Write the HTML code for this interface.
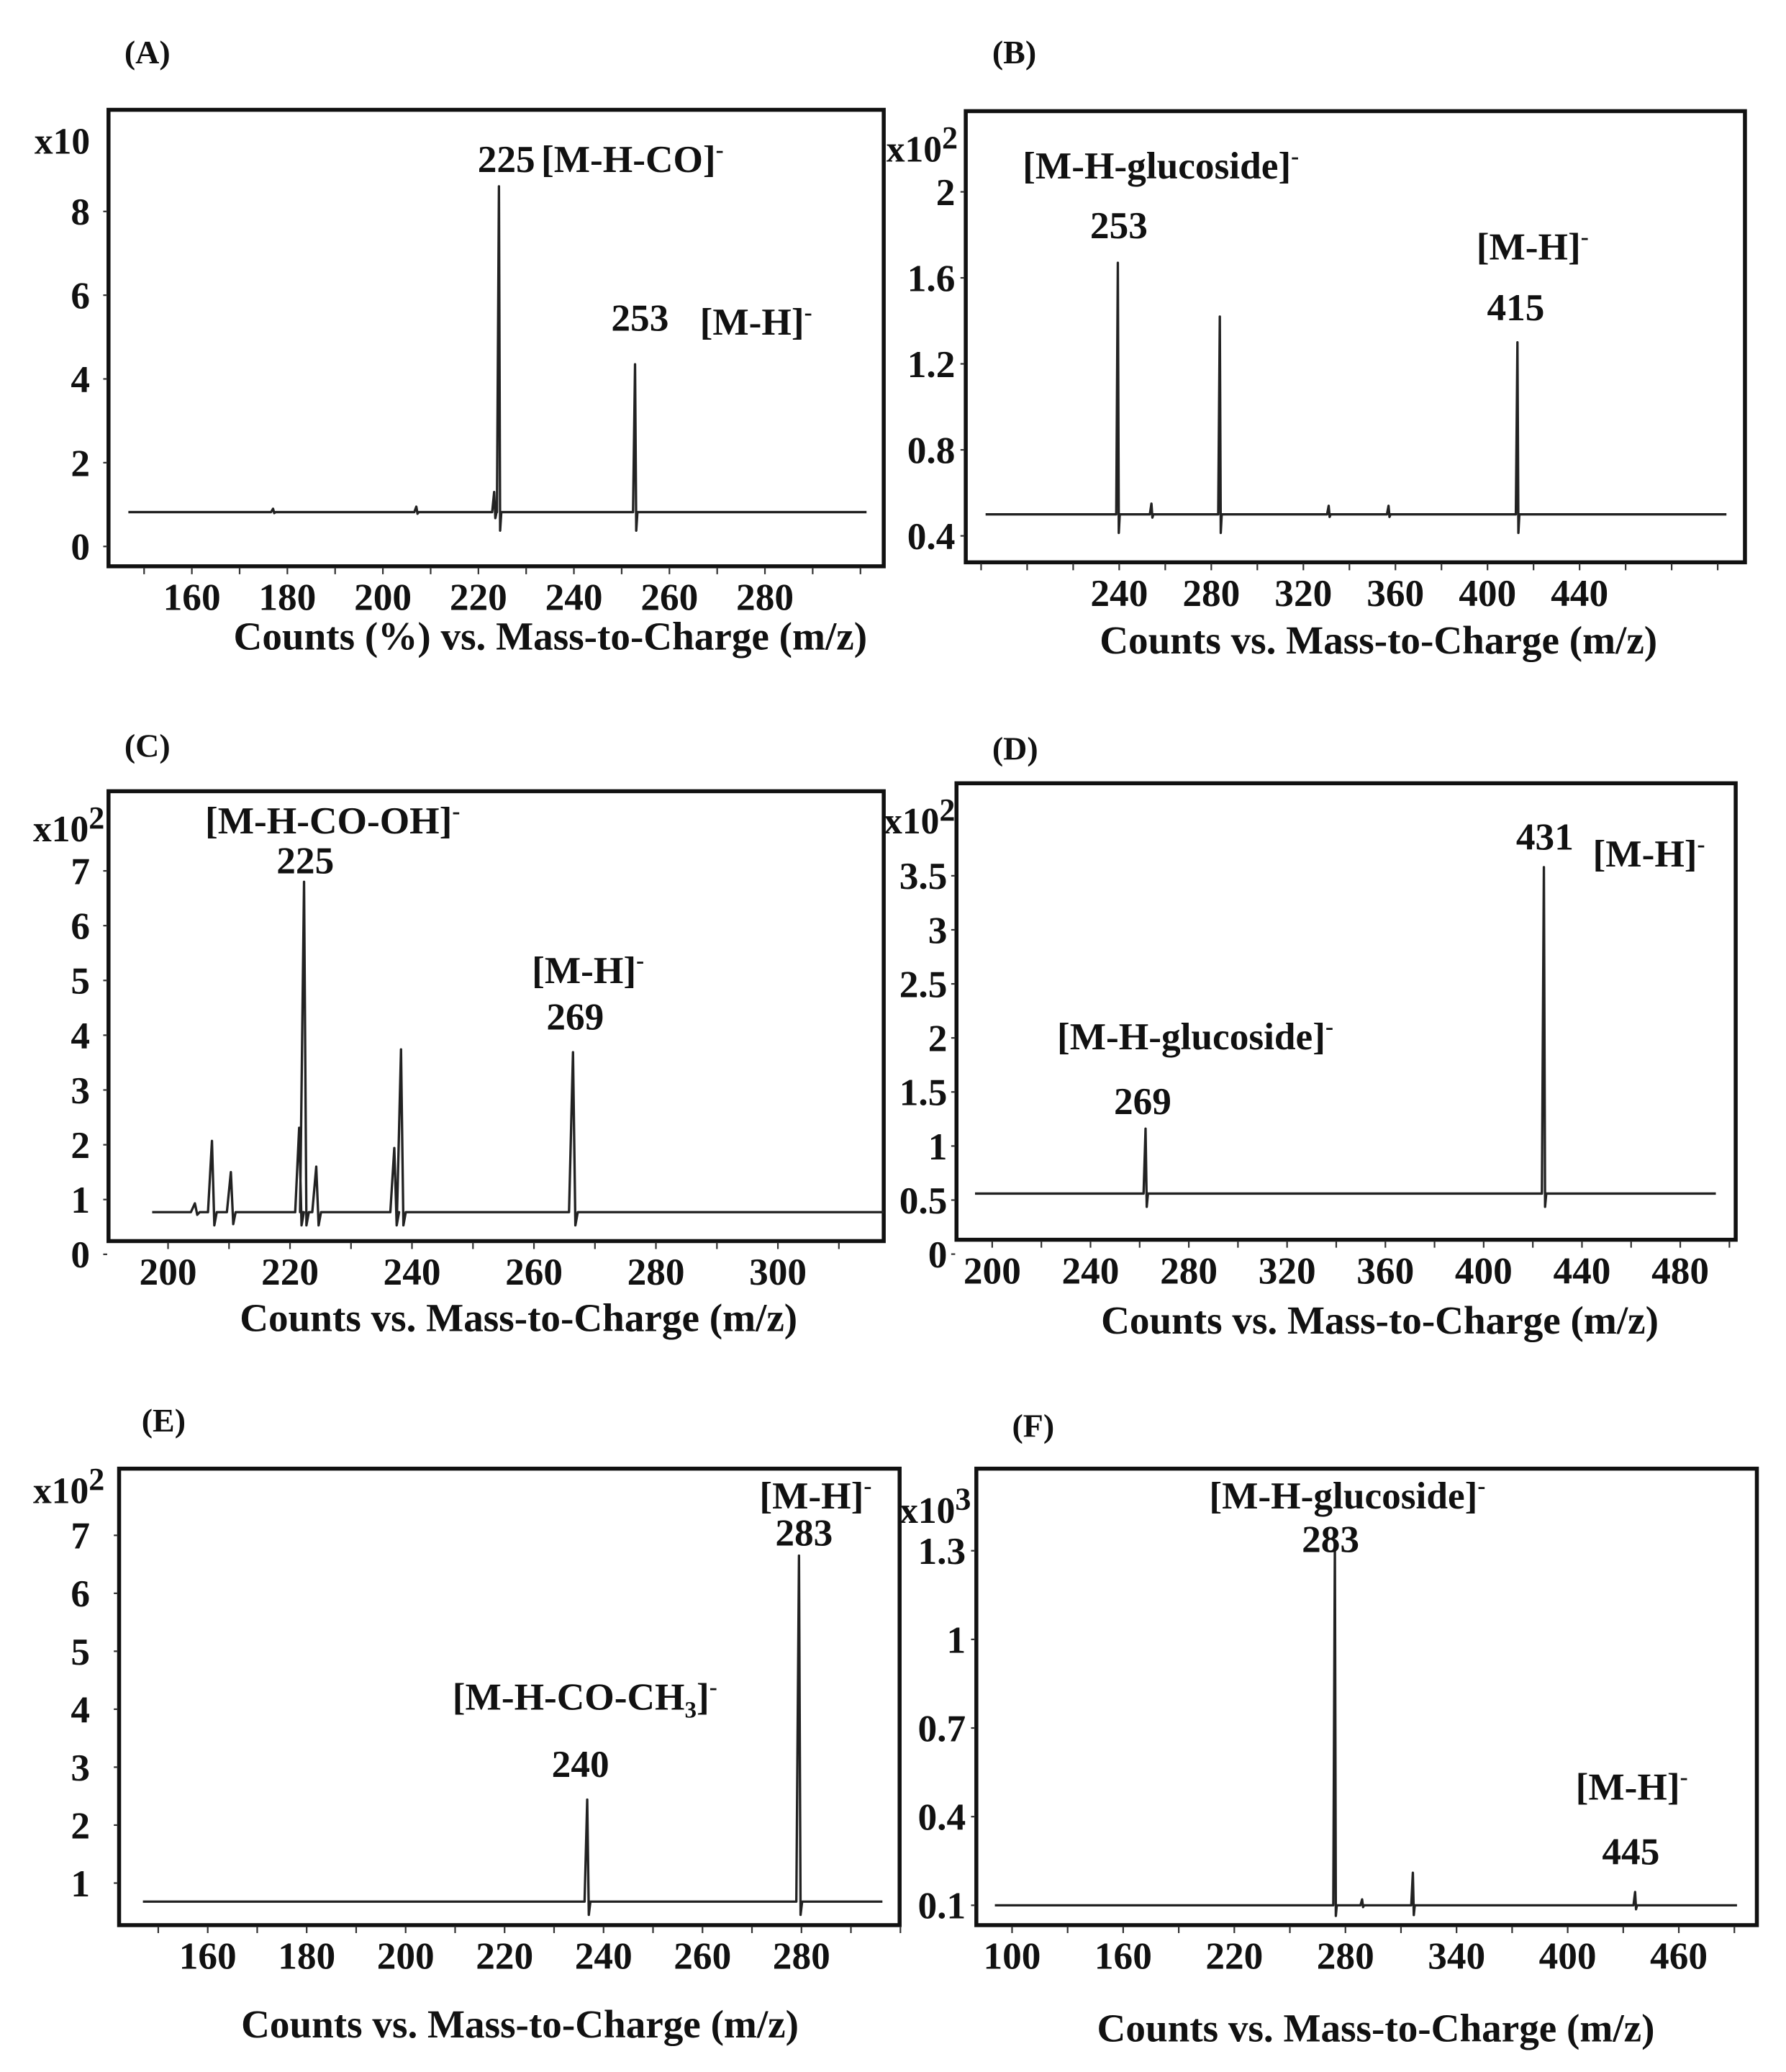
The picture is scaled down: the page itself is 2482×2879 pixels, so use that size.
<!DOCTYPE html>
<html><head><meta charset="utf-8"><style>
html,body{margin:0;padding:0;background:#fff;}
svg{display:block;}
text{font-family:"Liberation Serif",serif;font-weight:bold;fill:#111;}
</style></head><body>
<svg id="fig" width="2482" height="2879" viewBox="0 0 1350 1566" xmlns="http://www.w3.org/2000/svg"></svg>
<script>
// ---- Panel A data ----
const aXTicks = [160,180,200,220,240,260,280];
const aYTicks = [0,2,4,6,8];
const aPeakMz = [177,207,223.3,224.3,252.8];
const aPeakVal = [0.9,0.95,1.3,8.6,4.35];
const aBase = 0.82;
// ---- Panel B data ----
const bXTicks = [240,280,320,360,400,440];
const bYTicks = [0.4,0.8,1.2,1.6,2];
const bPeakMz = [239.4,254,283.7,331,357,413];
const bPeakVal = [1.67,0.55,1.42,0.54,0.54,1.30];
const bBase = 0.5;
// ---- Panel C data ----
const cXTicks = [200,220,240,260,280,300];
const cYTicks = [0,1,2,3,4,5,6,7];
const cPeakMz = [204.4,207.2,210.3,221.5,222.3,224.3,237.1,238.2,266.4];
const cPeakVal = [0.93,2.07,1.5,2.31,6.8,1.6,1.94,3.74,3.69];
const cBase = 0.77;
// ---- Panel D data ----
const dXTicks = [200,240,280,320,360,400,440,480];
const dYTicks = [0,0.5,1,1.5,2,2.5,3,3.5];
const dYLabels = ["0","0.5","1","1.5","2","2.5","3","3.5"];
const dPeakMz = [262.4,424.5];
const dPeakVal = [1.16,3.58];
const dBase = 0.56;
// ---- Panel E data ----
const eXTicks = [160,180,200,220,240,260,280];
const eYTicks = [1,2,3,4,5,6,7];
const ePeakMz = [236.7,279.5];
const ePeakVal = [2.44,6.65];
const eBase = 0.68;
// ---- Panel F data ----
const fXTicks = [100,160,220,280,340,400,460];
const fYTicks = [0.1,0.4,0.7,1,1.3];
const fPeakMz = [274.3,289,316.4,436.4];
const fPeakVal = [1.33,0.12,0.21,0.145];
const fBase = 0.1;

const NS="http://www.w3.org/2000/svg";
const svg=document.getElementById('fig');
function mk(tag,attrs,parent){const e=document.createElementNS(NS,tag);for(const k in attrs)e.setAttribute(k,attrs[k]);(parent||svg).appendChild(e);return e;}

function panel(o){
  const g=mk('g',{});
  
  
  const X=m=>o.x0+(m-o.m0)*o.kx;
  const Y=v=>o.y0-(v-o.v0)*o.ky;
  const L=mk('text',{x:o.letter[0],y:o.letter[1],'font-size':25},g);L.textContent='('+o.id.toUpperCase()+')';
  
  
  const f=mk('rect',{x:o.fr[0],y:o.fr[1],width:o.fr[2]-o.fr[0],height:o.fr[3]-o.fr[1],fill:'none',stroke:'#111','stroke-width':3},g);
  
  
  const xa=mk('g',{},g);
  
  
  const step=(o.xTicks[1]-o.xTicks[0])/2;
  for(let m=o.xTicks[0]-step*o.pre;X(m)<=o.fr[2]+2;m+=step){
    if(X(m)<o.fr[0]+5) continue;
    mk('line',{x1:X(m),x2:X(m),y1:o.fr[3]+1,y2:o.fr[3]+6,stroke:'#333','stroke-width':1.2},xa);
  }
  o.xTicks.forEach(m=>{const t=mk('text',{x:X(m),y:o.fr[3]+33,'font-size':29,'text-anchor':'middle'},xa);t.textContent=m;
    
    });
  const ya=mk('g',{},g);
  
  
  o.yTicks.forEach((v,i)=>{const t=mk('text',{x:o.yLabX,y:Y(v)+10,'font-size':29,'text-anchor':'end'},ya);t.textContent=o.yLabels?o.yLabels[i]:v;
    
    
    mk('line',{x1:o.fr[0]-4,x2:o.fr[0]-1,y1:Y(v),y2:Y(v),stroke:'#333','stroke-width':1.2},ya);});
  const ex=mk('text',{x:o.exp[0],y:o.exp[1],'font-size':28,'text-anchor':'start'},ya);
  ex.textContent=o.expText;
  
  
  if(o.expSup){const s=mk('tspan',{dy:-10,'font-size':24},ex);s.textContent=o.expSup;}
  const ti=mk('text',{x:o.title[0],y:o.title[1],'font-size':30,'text-anchor':'middle'},g);ti.textContent=o.titleText;
  
  
  const idx=o.mz.map((m,i)=>i).sort((a,b)=>o.mz[a]-o.mz[b]);
  const by=Y(o.base);
  let d='M'+o.bx[0]+','+by;
  idx.forEach(i=>{const px=X(o.mz[i]),py=Y(o.val[i]),w=o.w;
    const dp=Math.min(o.dip,(by-py)*0.3);
    d+=' L'+(px-w)+','+by+' L'+px+','+py+' L'+(px+w*0.6)+','+(by+dp)+' L'+(px+w*1.2)+','+by;});
  d+=' L'+o.bx[1]+','+by;
  const p=mk('path',{d:d,fill:'none',stroke:'#222','stroke-width':1.8,'stroke-linejoin':'round'},g);
  
  
  o.ann.forEach(a=>{const t=mk('text',{x:a[1],y:a[2],'font-size':29},g);t.textContent=a[0];
    
    
    if(a[3]){const s=mk('tspan',{'font-size':18,dy:a[3]>0?6:-11},t);s.textContent=a[3]>0?'3':'-';
      if(a[3]>0){const r=mk('tspan',{'font-size':29,dy:-6},t);r.textContent=']';const s2=mk('tspan',{'font-size':18,dy:-11},t);s2.textContent='-';}}});
}

panel({id:'a',letter:[94,48],fr:[82,83,668,428],x0:145,m0:160,kx:3.61,y0:413,v0:0,ky:31.65,
  xTicks:aXTicks,yTicks:aYTicks,pre:2,yLabX:68,exp:[26,116],expText:'x10',title:[416,491],
  titleText:'Counts (%) vs. Mass-to-Charge (m/z)',mz:aPeakMz,val:aPeakVal,base:aBase,bx:[97,655],w:1.5,dip:14,
  ann:[['225',361,130],['[M-H-CO]',409,130,-1],['253',462,250],['[M-H]',529,253,-1]]});
panel({id:'b',letter:[750,48],fr:[730,84,1319,425],x0:846,m0:240,kx:1.74,y0:405,v0:0.4,ky:162.5,
  xTicks:bXTicks,yTicks:bYTicks,pre:3,yLabX:722,exp:[670,122],expText:'x10',expSup:'2',title:[1042,494],
  titleText:'Counts vs. Mass-to-Charge (m/z)',mz:bPeakMz,val:bPeakVal,base:bBase,bx:[745,1305],w:1.2,dip:14,
  ann:[['[M-H-glucoside]',773,135,-1],['253',824,180],['[M-H]',1116,196,-1],['415',1124,242]]});
panel({id:'c',letter:[94,572],fr:[82,598,668,938],x0:127,m0:200,kx:4.61,y0:948,v0:0,ky:41.4,
  xTicks:cXTicks,yTicks:cYTicks,pre:1,yLabX:68,exp:[25,636],expText:'x10',expSup:'2',title:[392,1006],
  titleText:'Counts vs. Mass-to-Charge (m/z)',mz:cPeakMz,val:cPeakVal,base:cBase,bx:[115,668],w:3,dip:10,
  ann:[['[M-H-CO-OH]',155,630,-1],['225',209,660],['[M-H]',402,743,-1],['269',413,778]]});
panel({id:'d',letter:[750,574],fr:[723,592,1312,937],x0:750,m0:200,kx:1.8575,y0:907,v0:0.5,ky:81.7,
  xTicks:dXTicks,yTicks:dYTicks,yLabels:dYLabels,pre:0,yLabX:716,exp:[668,630],expText:'x10',expSup:'2',title:[1043,1008],
  titleText:'Counts vs. Mass-to-Charge (m/z)',mz:dPeakMz,val:dPeakVal,base:dBase,bx:[737,1297],w:1.5,dip:10,
  ann:[['431',1146,642],['[M-H]',1204,655,-1],['[M-H-glucoside]',799,793,-1],['269',842,842]]});
panel({id:'e',letter:[107,1082],fr:[90,1110,680,1455],x0:157,m0:160,kx:3.74,y0:1467,v0:0,ky:43.8,
  xTicks:eXTicks,yTicks:eYTicks,pre:1,yLabX:68,exp:[25,1136],expText:'x10',expSup:'2',title:[393,1540],
  titleText:'Counts vs. Mass-to-Charge (m/z)',mz:ePeakMz,val:ePeakVal,base:eBase,bx:[108,667],w:2,dip:10,
  ann:[['[M-H]',574,1140,-1],['283',586,1168],['[M-H-CO-CH',342,1292,1],['240',417,1343]]});
panel({id:'f',letter:[765,1086],fr:[738,1110,1328,1455],x0:765,m0:100,kx:1.4,y0:1440,v0:0.1,ky:223.3,
  xTicks:fXTicks,yTicks:fYTicks,pre:1,yLabX:730,exp:[680,1151],expText:'x10',expSup:'3',title:[1040,1543],
  titleText:'Counts vs. Mass-to-Charge (m/z)',mz:fPeakMz,val:fPeakVal,base:fBase,bx:[752,1313],w:1.2,dip:8,
  ann:[['[M-H-glucoside]',914,1140,-1],['283',984,1173],['[M-H]',1191,1360,-1],['445',1211,1409]]});
</script>
</body></html>
